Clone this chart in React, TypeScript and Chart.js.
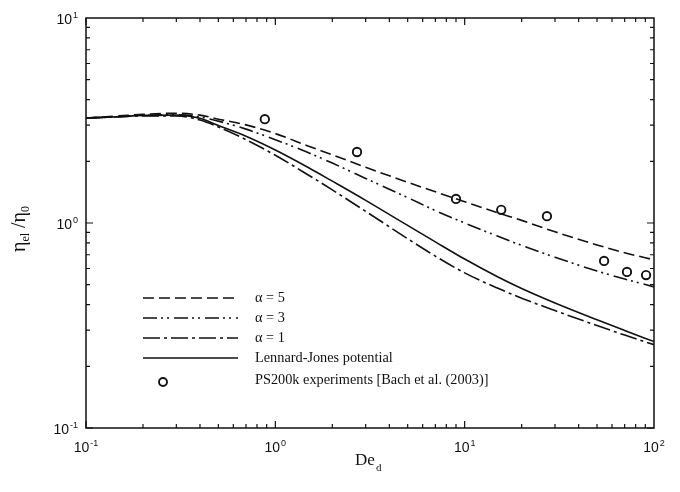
import React, { useEffect, useRef } from "react";
import { Chart, registerables } from "chart.js";

Chart.register(...registerables);

const deValues = [0.1, 0.15, 0.2, 0.3, 0.4, 0.5, 0.7, 1, 1.5, 2, 3, 5, 7, 10, 15, 20, 30, 50, 70, 100];
const alpha5 = [3.25, 3.33, 3.39, 3.43, 3.36, 3.21, 3.01, 2.73, 2.37, 2.15, 1.87, 1.58, 1.42, 1.27, 1.12, 1.03, 0.906, 0.782, 0.716, 0.661];
const alpha3 = [3.25, 3.3, 3.35, 3.37, 3.29, 3.14, 2.87, 2.55, 2.2, 1.96, 1.65, 1.33, 1.15, 1.0, 0.861, 0.778, 0.681, 0.583, 0.533, 0.488];
const alpha1 = [3.25, 3.3, 3.33, 3.33, 3.18, 2.94, 2.55, 2.14, 1.71, 1.45, 1.14, 0.838, 0.689, 0.571, 0.48, 0.43, 0.374, 0.316, 0.284, 0.255];
const lennardJones = [3.25, 3.3, 3.35, 3.36, 3.24, 2.99, 2.65, 2.27, 1.86, 1.6, 1.29, 0.973, 0.809, 0.667, 0.545, 0.479, 0.407, 0.337, 0.299, 0.264];

const expDe = [0.88, 2.7, 9.0, 15.6, 27.2, 54.5, 72, 90.8];
const expEta = [3.21, 2.22, 1.31, 1.16, 1.08, 0.653, 0.577, 0.557];

const xTickExps = [-1, 0, 1, 2];
const yTickExps = [-1, 0, 1];

const legendLabels = ["α = 5", "α = 3", "α = 1", "Lennard-Jones potential", "PS200k experiments [Bach et al. (2003)]"];

const INK = "#111";
const dashes: number[][] = [[11, 5], [14, 4, 2, 4, 2, 5], [17, 4, 3, 4], []];

const SANS = "'Liberation Sans', Arial, sans-serif";
const SERIF = "'Liberation Serif', 'Times New Roman', serif";

function pts(ys: number[]) {
  return deValues.map((x, i) => ({ x, y: ys[i] }));
}

const decorPlugin = {
  id: "decor",
  afterDraw(chart: any) {
    const ctx = chart.ctx as CanvasRenderingContext2D;
    const { left, right, top, bottom } = chart.chartArea;
    const xs = chart.scales.x;
    const ys = chart.scales.y;
    ctx.save();
    ctx.strokeStyle = INK;
    ctx.fillStyle = INK;
    // frame
    ctx.lineWidth = 1.5;
    ctx.setLineDash([]);
    ctx.strokeRect(left, top, right - left, bottom - top);
    // ticks
    ctx.lineWidth = 1.2;
    ctx.beginPath();
    for (let e = -1; e <= 1; e++) {
      for (let m = 1; m <= 9; m++) {
        const v = m * Math.pow(10, e);
        const px = xs.getPixelForValue(v);
        const len = m === 1 ? 7 : 4;
        ctx.moveTo(px, bottom); ctx.lineTo(px, bottom - len);
        ctx.moveTo(px, top); ctx.lineTo(px, top + len);
      }
    }
    for (let e = -1; e <= 0; e++) {
      for (let m = 1; m <= 9; m++) {
        const v = m * Math.pow(10, e);
        const py = ys.getPixelForValue(v);
        const len = m === 1 ? 7 : 4;
        ctx.moveTo(left, py); ctx.lineTo(left + len, py);
        ctx.moveTo(right, py); ctx.lineTo(right - len, py);
      }
    }
    ctx.stroke();

    // tick labels
    const drawPow = (exp: number, x: number, baseline: number, align: "center" | "right") => {
      const base = "10";
      const sup = String(exp);
      ctx.font = `14px ${SANS}`;
      const wb = ctx.measureText(base).width;
      ctx.font = `9px ${SANS}`;
      const ws = ctx.measureText(sup).width;
      const total = wb + ws + 1;
      const x0 = align === "center" ? x - total / 2 : x - total;
      ctx.textAlign = "left";
      ctx.textBaseline = "alphabetic";
      ctx.font = `14px ${SANS}`;
      ctx.fillText(base, x0, baseline);
      ctx.font = `9px ${SANS}`;
      ctx.fillText(sup, x0 + wb + 1, baseline - 6);
    };
    xTickExps.forEach((e) => drawPow(e, xs.getPixelForValue(Math.pow(10, e)), bottom + 24, "center"));
    yTickExps.forEach((e) => drawPow(e, left - 8, ys.getPixelForValue(Math.pow(10, e)) + 6, "right"));

    // x title
    ctx.textAlign = "left";
    ctx.font = `17px ${SERIF}`;
    const wDe = ctx.measureText("De").width;
    const xc = (left + right) / 2 - 2;
    ctx.fillText("De", xc - wDe / 2 - 3, 465);
    ctx.font = `11px ${SERIF}`;
    ctx.fillText("d", xc + wDe / 2 - 2, 471);

    // y title
    ctx.save();
    ctx.translate(25, 229);
    ctx.rotate(-Math.PI / 2);
    const parts: [string, number, number][] = [
      ["η", 20, 0],
      ["el", 12, 4],
      [" /η", 20, 0],
      ["0", 12, 4],
    ];
    let tw = 0;
    parts.forEach(([t, s]) => { ctx.font = `${s}px ${SERIF}`; tw += ctx.measureText(t).width; });
    let cx = -tw / 2;
    parts.forEach(([t, s, dy]) => {
      ctx.font = `${s}px ${SERIF}`;
      ctx.fillText(t, cx, dy);
      cx += ctx.measureText(t).width;
    });
    ctx.restore();

    // legend
    const lx0 = 143, lx1 = 238, tx = 255;
    const rows = [298, 318, 338, 358, 382];
    ctx.font = `14.3px ${SERIF}`;
    ctx.textBaseline = "middle";
    for (let i = 0; i < 4; i++) {
      ctx.setLineDash(dashes[i]);
      ctx.lineWidth = 1.6;
      ctx.beginPath();
      ctx.moveTo(lx0, rows[i]);
      ctx.lineTo(lx1, rows[i]);
      ctx.stroke();
      ctx.setLineDash([]);
      ctx.fillText(legendLabels[i], tx, rows[i]);
    }
    ctx.lineWidth = 1.9;
    ctx.beginPath();
    ctx.arc(163, rows[4], 4, 0, Math.PI * 2);
    ctx.stroke();
    ctx.fillText(legendLabels[4], tx, rows[4] - 2);
    ctx.restore();
  },
};

export default function App() {
  const ref = useRef<HTMLCanvasElement | null>(null);
  useEffect(() => {
    if (!ref.current) return;
    const lineDs = (label: string, ys: number[], dash: number[]) => ({
      type: "line" as const,
      label,
      data: pts(ys),
      borderColor: INK,
      borderWidth: 1.6,
      borderDash: dash,
      pointRadius: 0,
      fill: false,
      cubicInterpolationMode: "monotone" as const,
    });
    const chart = new Chart(ref.current, {
      type: "line",
      data: {
        datasets: [
          lineDs(legendLabels[0], alpha5, dashes[0]),
          lineDs(legendLabels[1], alpha3, dashes[1]),
          lineDs(legendLabels[2], alpha1, dashes[2]),
          lineDs(legendLabels[3], lennardJones, dashes[3]),
          {
            type: "scatter" as const,
            label: legendLabels[4],
            data: expDe.map((x, i) => ({ x, y: expEta[i] })),
            showLine: false,
            pointStyle: "circle",
            pointRadius: 4.2,
            pointBorderWidth: 1.9,
            borderColor: INK,
            backgroundColor: "#fff",
            pointBackgroundColor: "#fff",
            pointBorderColor: INK,
          } as any,
        ],
      },
      options: {
        responsive: false,
        animation: false,
        layout: { padding: { left: 86, right: 26, top: 18, bottom: 64 } },
        plugins: { legend: { display: false }, tooltip: { enabled: false } },
        scales: {
          x: { type: "logarithmic", min: 0.1, max: 100, display: false },
          y: { type: "logarithmic", min: 0.1, max: 10, display: false },
        },
      },
      plugins: [decorPlugin],
    });
    return () => chart.destroy();
  }, []);
  return (
    <div style={{ position: "absolute", left: 0, top: 0, width: 680, height: 492, background: "#fff" }}>
      <canvas ref={ref} width={680} height={492} />
    </div>
  );
}
